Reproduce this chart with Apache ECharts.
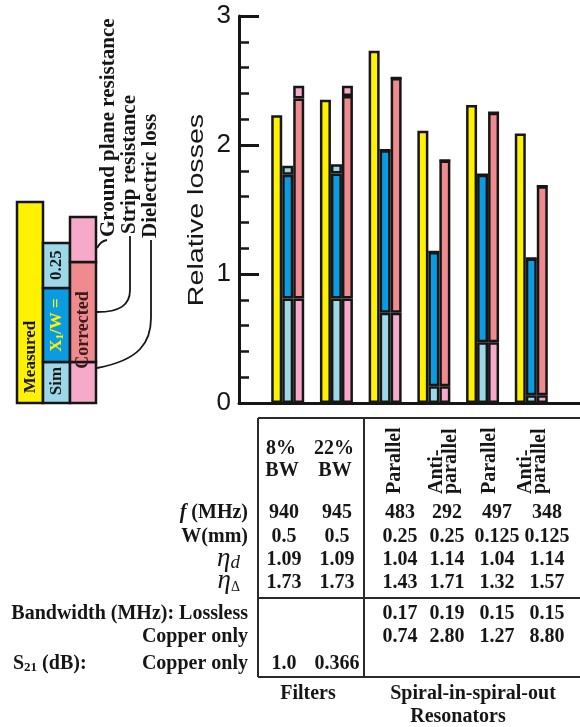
<!DOCTYPE html>
<html>
<head>
<meta charset="utf-8">
<script src="https://cdn.jsdelivr.net/npm/echarts@6/dist/echarts.min.js"></script>
<style>
  html, body { margin: 0; padding: 0; background: #ffffff; }
  #chart { width: 580px; height: 727px; }
</style>
</head>
<body>
<div id="chart"></div>
<script>
// ---- data -------------------------------------------------------------
const groups = ['8% BW filter', '22% BW filter', 'Parallel W0.25', 'Anti-parallel W0.25', 'Parallel W0.125', 'Anti-parallel W0.125'];

// relative losses
const measured       = [2.23, 2.35, 2.73, 2.11, 2.31, 2.09];
const simDielectric  = [0.81, 0.81, 0.70, 0.13, 0.47, 0.06];
const simStrip       = [0.96, 0.97, 1.26, 1.04, 1.30, 1.06];
const simGround      = [0.07, 0.07, 0, 0, 0, 0];
const corrDielectric = [0.81, 0.81, 0.70, 0.13, 0.47, 0.06];
const corrStrip      = [1.55, 1.57, 1.82, 1.75, 1.78, 1.62];
const corrGround     = [0.10, 0.08, 0, 0, 0, 0];

// table below the bars
const filterHeads    = [['8%', 'BW'], ['22%', 'BW']];
const resonatorHeads = ['Parallel', 'Anti-\nparallel', 'Parallel', 'Anti-\nparallel'];
const freqMHz        = ['940', '945', '483', '292', '497', '348'];
const widthMm        = ['0.5', '0.5', '0.25', '0.25', '0.125', '0.125'];
const etaD           = ['1.09', '1.09', '1.04', '1.14', '1.04', '1.14'];
const etaDelta       = ['1.73', '1.73', '1.43', '1.71', '1.32', '1.57'];
const bwLossless     = ['', '', '0.17', '0.19', '0.15', '0.15'];
const bwCopper       = ['', '', '0.74', '2.80', '1.27', '8.80'];
const s21Copper      = ['1.0', '0.366', '', '', '', ''];

// ---- styling ----------------------------------------------------------
const SERIF = '"Liberation Serif","Times New Roman",serif';
const SANS = '"Liberation Sans",Arial,sans-serif';
const INK = '#161616';
const C = {
  yellow: '#fff200',
  lightCyan: '#9dd8e8',
  blue: '#0a9be0',
  lightPink: '#f7a9c9',
  salmon: '#ef8a8e'
};

const pad = arr => ['-', ...arr, '-'];

function bar(name, data, color, stack) {
  const s = {
    type: 'bar', name, data: pad(data), barWidth: 11, barGap: '0%',
    itemStyle: { color, borderColor: INK, borderWidth: 2.5 }
  };
  if (stack) s.stack = stack;
  return s;
}

// ---- chart ------------------------------------------------------------
const chart = echarts.init(document.getElementById('chart'), null, { renderer: 'canvas' });
chart.setOption({
  backgroundColor: '#ffffff',
  animation: false,
  grid: { left: 239, right: -18.8, top: 16, bottom: 324 },
  xAxis: {
    type: 'category',
    data: ['', ...groups, ''],
    boundaryGap: false,
    axisLine: { lineStyle: { color: INK, width: 3 } },
    axisTick: { show: false },
    axisLabel: { show: false },
    splitLine: { show: false }
  },
  yAxis: {
    type: 'value',
    min: 0, max: 3, interval: 1,
    axisLine: { show: true, lineStyle: { color: INK, width: 3 } },
    axisTick: { show: true, inside: true, length: 20, lineStyle: { color: INK, width: 3 } },
    minorTick: { show: true, splitNumber: 5, length: 10, lineStyle: { color: INK, width: 2.5 } },
    axisLabel: { fontSize: 26, color: INK, margin: 8 },
    splitLine: { show: false }
  },
  series: [
    bar('Measured', measured, C.yellow),
    bar('Sim: dielectric loss', simDielectric, C.lightCyan, 'sim'),
    bar('Sim: strip resistance', simStrip, C.blue, 'sim'),
    bar('Sim: ground plane resistance', simGround, C.lightCyan, 'sim'),
    bar('Corrected: dielectric loss', corrDielectric, C.lightPink, 'corr'),
    bar('Corrected: strip resistance', corrStrip, C.salmon, 'corr'),
    bar('Corrected: ground plane resistance', corrGround, C.lightPink, 'corr')
  ]
});

// ---- key, axis title and table, added straight to the zrender scene ----
const zr = chart.getZr();
const G = echarts.graphic;

function label(x, y, text, o = {}) {
  const style = {
    text,
    fill: o.fill || INK,
    fontFamily: o.family || SERIF,
    fontWeight: o.weight || 'bold',
    fontStyle: o.fstyle || 'normal',
    fontSize: o.size || 20,
    align: o.align || 'center',
    verticalAlign: o.va || 'middle'
  };
  if (o.lh) style.lineHeight = o.lh;
  if (o.rich) style.rich = o.rich;
  zr.add(new G.Text({ x, y, rotation: o.rot || 0, scaleX: o.sx || 1, z: 30, style }));
}
function rect(x, y, w, h, fill) {
  zr.add(new G.Rect({ z: 20, shape: { x, y, width: w, height: h }, style: { fill, stroke: INK, lineWidth: 2.5 } }));
}
function seg(x1, y1, x2, y2, w = 2, color = INK) {
  zr.add(new G.Line({ z: 20, shape: { x1, y1, x2, y2 }, style: { stroke: color, lineWidth: w } }));
}
function curve(x1, y1, cpx1, cpy1, cpx2, cpy2, x2, y2) {
  zr.add(new G.BezierCurve({ z: 20, shape: { x1, y1, cpx1, cpy1, cpx2, cpy2, x2, y2 },
                             style: { stroke: INK, lineWidth: 1.8, fill: null } }));
}

const UP = Math.PI / 2;

// axis title
label(197, 210, 'Relative losses', { family: SANS, weight: 'normal', size: 22, rot: UP, sx: 1.3 });

// key on the left
rect(17, 202, 26, 201, C.yellow);
rect(43, 362, 27, 41, C.lightCyan);
rect(43, 288, 27, 74, C.blue);
rect(43, 243, 27, 45, C.lightCyan);
rect(70, 362, 26, 41, C.lightPink);
rect(70, 262, 26, 100, C.salmon);
rect(70, 217, 26, 45, C.lightPink);

label(31, 357, 'Measured', { size: 17, rot: UP });
label(57, 381, 'Sim', { size: 17, rot: UP });
label(57, 325, '{a|X}{s|1}{a|/W =}', {
  rot: UP, fill: C.yellow,
  rich: {
    a: { fontFamily: SERIF, fontWeight: 'bold', fontSize: 17, fill: C.yellow },
    s: { fontFamily: SERIF, fontWeight: 'bold', fontSize: 11, fill: C.yellow, verticalAlign: 'bottom' }
  }
});
label(57, 265, '0.25', { size: 17, rot: UP });
label(83, 330, 'Corrected', { size: 18, rot: UP, fill: '#3b1c1c' });

// leader lines from the key to the loss names
curve(97, 248, 100, 243, 102, 241, 107, 240);
curve(97, 312, 120, 312, 130, 305, 130, 290);
seg(130, 290, 130, 236, 1.8);
curve(97, 368, 140, 360, 151, 342, 151, 318);
seg(151, 318, 151, 240, 1.8);

label(109, 237, 'Ground plane resistance', { size: 21, rot: UP, align: 'left' });
label(130, 234, 'Strip resistance', { size: 21, rot: UP, align: 'left' });
label(151, 238, 'Dielectric loss', { size: 21, rot: UP, align: 'left' });

// table frame
const TL = 258, TR = 580, TT = 418, TM = 598, TB = 677, TV = 364;
const LINE = '#2a2a2a';
seg(TL, TT, TR, TT, 2, LINE);
seg(TL, TT, TL, TB, 2, LINE);
seg(TV, TT, TV, TB, 2, LINE);
seg(TL, TM, TR, TM, 2, LINE);
seg(TL, TB, TR, TB, 2, LINE);

// column headers
const colX = [284, 337, 400, 447, 497, 547];
filterHeads.forEach((h, i) => {
  label(colX[i] - 3, 449, h[0]);
  label(colX[i] - 2, 471, h[1]);
});
const headX = [395, 444, 490, 533];
resonatorHeads.forEach((h, i) => {
  label(headX[i], 494, h, { rot: UP, align: 'left', lh: 14 });
});

// table values
const rows = [
  [513, freqMHz], [537, widthMm], [560, etaD], [583, etaDelta],
  [614, bwLossless], [637, bwCopper], [664, s21Copper]
];
rows.forEach(([y, vals]) => {
  vals.forEach((v, i) => { if (v) label(colX[i], y, v); });
});

// row captions
const RX = 248;
label(RX, 513, '{i|f}{b| (MHz)}', {
  align: 'right',
  rich: {
    i: { fontFamily: SERIF, fontStyle: 'italic', fontWeight: 'bold', fontSize: 20, fill: INK },
    b: { fontFamily: SERIF, fontWeight: 'bold', fontSize: 20, fill: INK }
  }
});
label(RX, 537, 'W(mm)', { align: 'right' });
label(240, 559, '{e|η}{s|d}', {
  align: 'right',
  rich: {
    e: { fontFamily: SERIF, fontStyle: 'italic', fontSize: 27, fill: INK },
    s: { fontFamily: SERIF, fontStyle: 'italic', fontSize: 19, fill: INK, verticalAlign: 'bottom' }
  }
});
label(240, 581, '{e|η}{s|Δ}', {
  align: 'right',
  rich: {
    e: { fontFamily: SERIF, fontStyle: 'italic', fontSize: 27, fill: INK },
    s: { fontFamily: SERIF, fontSize: 14, fill: INK, verticalAlign: 'bottom' }
  }
});
label(RX, 614, 'Bandwidth (MHz): Lossless', { align: 'right' });
label(RX, 637, 'Copper only', { align: 'right' });
label(RX, 664, 'Copper only', { align: 'right' });
label(13, 664, '{b|S}{s|21}{b| (dB):}', {
  align: 'left',
  rich: {
    b: { fontFamily: SERIF, fontWeight: 'bold', fontSize: 20, fill: INK },
    s: { fontFamily: SERIF, fontWeight: 'bold', fontSize: 13, fill: INK, verticalAlign: 'bottom' }
  }
});

// group captions
label(308, 694, 'Filters');
label(473, 694, 'Spiral-in-spiral-out');
label(458, 717, 'Resonators');
</script>
</body>
</html>
